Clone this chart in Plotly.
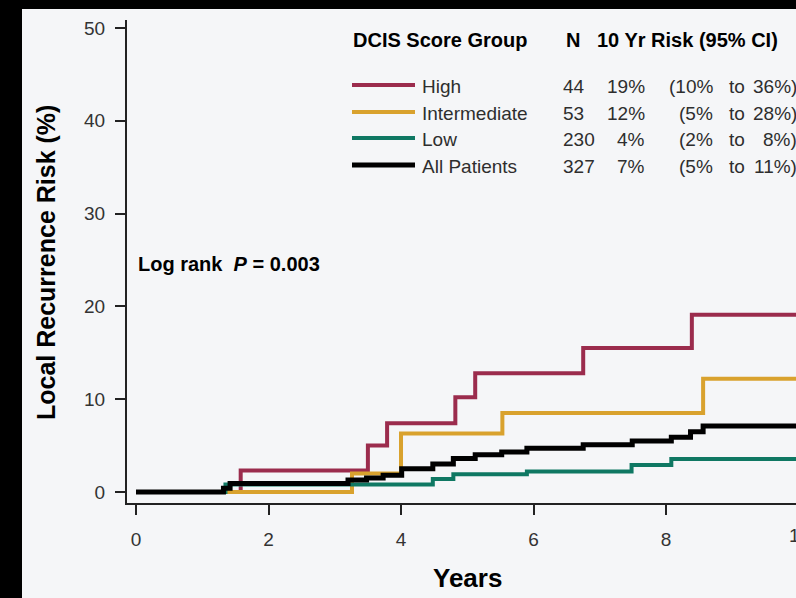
import plotly.graph_objects as go

# ---------------- data ----------------
high_t = [0, 1.58, 3.50, 3.79, 4.82, 5.12, 6.75, 8.39, 10.2]
high_v = [0, 2.3, 5.0, 7.4, 10.2, 12.8, 15.5, 19.1, 19.1]

inter_t = [0, 3.26, 4.00, 5.53, 8.56, 10.2]
inter_v = [0, 2.0, 6.3, 8.5, 12.2, 12.2]

low_t = [0, 1.35, 4.48, 4.79, 5.90, 7.48, 8.08, 10.2]
low_v = [0, 0.8, 1.4, 1.9, 2.2, 2.9, 3.55, 3.55]

all_t = [0, 1.32, 1.42, 3.20, 3.48, 3.73, 4.01, 4.48, 4.79, 5.12, 5.52, 5.90,
         6.75, 7.49, 8.08, 8.37, 8.56, 10.2]
all_v = [0, 0.4, 0.9, 1.3, 1.5, 1.8, 2.5, 3.0, 3.6, 4.0, 4.3, 4.7,
         5.1, 5.5, 5.9, 6.5, 7.1, 7.1]

groups = ["High", "Intermediate", "Low", "All Patients"]
group_n = ["44", "53", "230", "327"]
group_risk = ["19%", "12%", "4%", "7%"]
ci_low = ["(10%", "(5%", "(2%", "(5%"]
ci_high = ["36%)", "28%)", "8%)", "11%)"]

x_ticks = [0, 2, 4, 6, 8, 10]
y_ticks = [0, 10, 20, 30, 40, 50]

colors = ["#9b2c4d", "#d9a22e", "#0f7863", "#000000"]
widths = [4, 4, 4, 5]

# ---------------- layout geometry (pixels) ----------------
W, H = 796, 598
L, R, T, B = 127, 796, 20, 503

def px(x):
    return (x - L) / (R - L)

def py(y):
    return (B - y) / (B - T)

FONT = "Liberation Sans, Arial, sans-serif"
BG = "#f5f6f8"

fig = go.Figure()
series = [(high_t, high_v), (inter_t, inter_v), (low_t, low_v), (all_t, all_v)]
for (t, v), name, c, w in zip(series, groups, colors, widths):
    fig.add_trace(go.Scatter(x=t, y=v, mode="lines", name=name,
                             line=dict(color=c, width=w, shape="hv"),
                             showlegend=False, hoverinfo="skip"))

shapes = []
annotations = []

# black frame strips (left and top)
shapes.append(dict(type="rect", xref="paper", yref="paper",
                   x0=px(-5), x1=px(22), y0=py(H + 5), y1=py(-5),
                   fillcolor="#000000", line=dict(width=0), layer="above"))
shapes.append(dict(type="rect", xref="paper", yref="paper",
                   x0=px(-5), x1=px(W + 5), y0=py(9), y1=py(-5),
                   fillcolor="#000000", line=dict(width=0), layer="above"))

# legend table
hfont = dict(family=FONT, size=20, color="#000")
annotations.append(dict(text="<b>DCIS Score Group</b>", x=px(351), y=py(40),
                        xanchor="left", yanchor="middle", font=hfont))
annotations.append(dict(text="<b>N</b>", x=px(564), y=py(40),
                        xanchor="left", yanchor="middle", font=hfont))
annotations.append(dict(text="<b>10 Yr Risk (95% CI)</b>", x=px(595), y=py(40),
                        xanchor="left", yanchor="middle", font=hfont))

row_text_y = [87, 113, 139, 166]
row_line_y = [85, 112, 138, 165]
for i in range(4):
    shapes.append(dict(type="line", xref="paper", yref="paper",
                       x0=px(352), x1=px(415), y0=py(row_line_y[i]), y1=py(row_line_y[i]),
                       line=dict(color=colors[i], width=widths[i])))
    fnt = dict(family=FONT, size=19, color="#2e2e2e")
    annotations.append(dict(text=groups[i], x=px(420), y=py(row_text_y[i]),
                            xanchor="left", yanchor="middle", font=fnt))
    annotations.append(dict(text=group_n[i], x=px(561), y=py(row_text_y[i]),
                            xanchor="left", yanchor="middle", font=fnt))
    annotations.append(dict(text=group_risk[i], x=px(647), y=py(row_text_y[i]),
                            xanchor="right", yanchor="middle", font=fnt))
    annotations.append(dict(text=ci_low[i], x=px(715), y=py(row_text_y[i]),
                            xanchor="right", yanchor="middle", font=fnt))
    annotations.append(dict(text="to", x=px(737), y=py(row_text_y[i]),
                            xanchor="center", yanchor="middle", font=fnt))
    annotations.append(dict(text=ci_high[i], x=px(799), y=py(row_text_y[i]),
                            xanchor="right", yanchor="middle", font=fnt))

# log rank text
annotations.append(dict(text="<b>Log rank  <i>P</i> = 0.003</b>", x=px(136), y=py(264),
                        xanchor="left", yanchor="middle",
                        font=dict(family=FONT, size=20, color="#000")))

# axis titles
annotations.append(dict(text="<b>Years</b>", x=px(468), y=py(578),
                        xanchor="center", yanchor="middle",
                        font=dict(family=FONT, size=26, color="#000")))
annotations.append(dict(text="<b>Local Recurrence Risk (%)</b>", x=px(46), y=py(263),
                        xanchor="center", yanchor="middle", textangle=-90,
                        font=dict(family=FONT, size=25, color="#000")))

# "10" tick label at the right edge (clipped by the frame, as in the source)
annotations.append(dict(text="10", x=px(799), y=py(535),
                        xanchor="center", yanchor="middle",
                        font=dict(family=FONT, size=19, color="#333")))

for a in annotations:
    a.setdefault("xref", "paper")
    a.setdefault("yref", "paper")
    a.setdefault("showarrow", False)
    a.setdefault("font", dict(family=FONT, size=19, color="#000"))

axis_common = dict(showline=True, linecolor="#222", linewidth=2,
                   ticks="outside", ticklen=10, tickwidth=2, tickcolor="#222",
                   showgrid=False, zeroline=False,
                   tickfont=dict(family=FONT, size=19, color="#333"))

fig.update_layout(
    width=W, height=H, autosize=False,
    margin=dict(l=L, r=W - R, t=T, b=H - B, pad=0),
    paper_bgcolor=BG, plot_bgcolor=BG,
    xaxis=dict(range=[-0.136, 9.962], tickvals=x_ticks, ticklabelstandoff=8, **axis_common),
    yaxis=dict(range=[-1.19, 50.86], tickvals=y_ticks, ticklabelstandoff=6, **axis_common),
    shapes=shapes, annotations=annotations,
    showlegend=False,
)

fig.write_html("out.html", config={"displayModeBar": False},
               post_script="document.body.style.margin='0';")
